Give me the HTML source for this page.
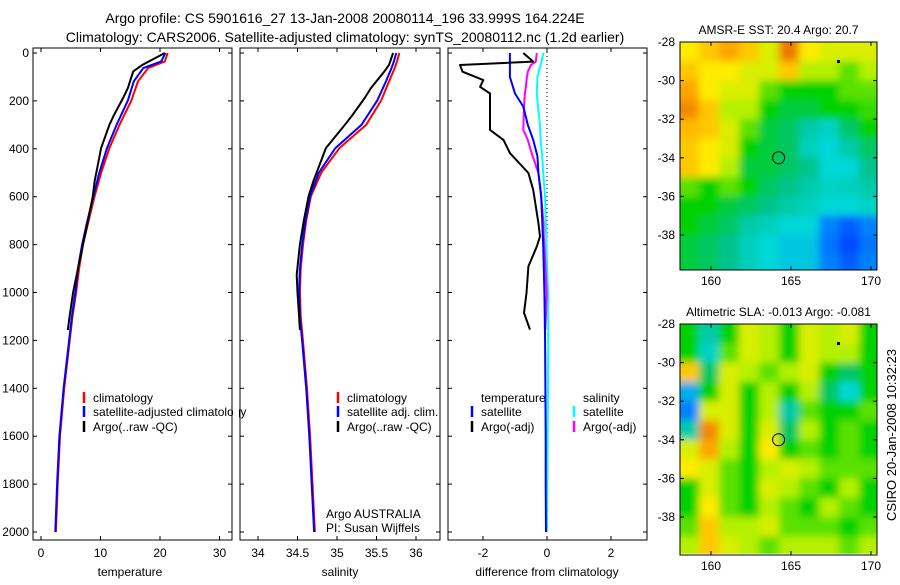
<!DOCTYPE html>
<html><head><meta charset="utf-8"><style>
html,body{margin:0;padding:0;background:#fff}
svg text{font-family:"Liberation Sans",sans-serif;fill:#000}
</style></head><body>
<svg id="fig" width="900" height="580" viewBox="0 0 900 580" xmlns="http://www.w3.org/2000/svg">
<defs>
<filter id="blur" x="-5%" y="-5%" width="110%" height="110%"><feGaussianBlur stdDeviation="4"/></filter>
<clipPath id="clip1"><rect x="680" y="42" width="197" height="228"/></clipPath>
<clipPath id="clip2"><rect x="680" y="324" width="197" height="231"/></clipPath>
</defs>
<text x="345" y="23" font-size="14" text-anchor="middle">Argo profile: CS 5901616_27 13-Jan-2008 20080114_196 33.999S 164.224E</text>
<text x="345" y="42" font-size="14" text-anchor="middle">Climatology: CARS2006. Satellite-adjusted climatology: synTS_20080112.nc (1.2d earlier)</text>
<g id="g"></g>
<text transform="translate(896,435) rotate(-90)" font-size="13" text-anchor="middle">CSIRO 20-Jan-2008 10:32:23</text>
</svg>
<script>
// ---- data ----
const depthClim = [0,35,63,118,198,300,397,500,598,700,800,900,995,1100,1204,1400,1600,1800,2000];
const tempClim = [21.3,20.8,18.0,16.3,15.2,13.2,11.5,10.1,9.0,8.0,7.06,6.4,5.94,5.3,4.8,3.9,3.2,2.8,2.5];
const tempSat = [20.9,20.2,17.2,15.6,14.6,12.7,11.1,9.8,8.8,7.8,6.9,6.2,5.8,5.2,4.7,3.8,3.1,2.7,2.4];
const salClim = [35.79,35.76,35.73,35.66,35.56,35.37,35.03,34.8,34.67,34.61,34.57,34.54,34.53,34.54,34.57,34.62,34.66,34.69,34.72];
const salSat = [35.75,35.72,35.69,35.62,35.51,35.31,34.98,34.77,34.66,34.6,34.56,34.53,34.52,34.53,34.56,34.61,34.65,34.68,34.71];
const depthArgo = [0,49,77,146,188,257,300,397,536,598,700,800,926,1000,1100,1157];
const tempArgo = [20.8,17.1,15.5,14.6,13.8,12.3,11.5,10.1,9.0,8.7,7.9,7.06,6.0,5.4,4.8,4.5];
const salArgo = [35.71,35.66,35.6,35.43,35.35,35.2,35.1,34.86,34.70,34.64,34.58,34.53,34.49,34.5,34.52,34.53];
const diffDepthArgo = [0,36,50,78,113,141,169,224,321,363,418,501,571,710,766,808,891,1002,1085,1155];
const diffTempArgo = [-0.74,-0.43,-2.72,-2.64,-1.99,-2.09,-1.78,-1.78,-1.78,-1.36,-1.16,-0.58,-0.43,-0.27,-0.22,-0.32,-0.58,-0.64,-0.72,-0.53];
const diffSalArgo = [-0.32,-0.35,-0.5,-0.6,-0.64,-0.66,-0.69,-0.72,-0.74,-0.6,-0.48,-0.27,-0.2,-0.11,-0.1,-0.08,-0.05,-0.01,-0.03,-0.05];
const diffDepthSat = [0,50,100,169,224,300,363,430,501,600,800,1000,1200,1400,1600,1800,2000];
const diffTempSat = [-1.16,-1.16,-1.16,-1.0,-0.74,-0.6,-0.43,-0.3,-0.27,-0.18,-0.12,-0.08,-0.06,-0.05,-0.04,-0.04,-0.03];
const diffSalSat = [-0.11,-0.2,-0.3,-0.32,-0.28,-0.22,-0.2,-0.15,-0.12,-0.06,-0.02,0.03,0.04,0.03,0.02,0.01,0.0];
const depthTicks = [0,200,400,600,800,1000,1200,1400,1600,1800,2000];
const tempTicks = [0,10,20,30];
const salTicks = [34,34.5,35,35.5,36];
const salTickLabels = ["34","34.5","35","35.5","36"];
const diffTicks = [-2,0,2];
const sstGrid = [
[.65,.7,.75,.7,.6,.8,.65,.6,.6,.6],
[.7,.65,.65,.6,.6,.7,.55,.55,.5,.55],
[.75,.65,.6,.6,.5,.45,.45,.45,.5,.5],
[.78,.7,.55,.55,.45,.42,.42,.45,.45,.48],
[.72,.7,.6,.5,.42,.4,.35,.32,.4,.45],
[.7,.65,.6,.45,.42,.4,.33,.3,.35,.4],
[.7,.65,.55,.42,.42,.4,.38,.3,.3,.38],
[.5,.45,.5,.45,.4,.38,.35,.32,.33,.35],
[.45,.45,.42,.4,.38,.35,.33,.3,.3,.32],
[.45,.42,.4,.35,.33,.3,.3,.2,.15,.2],
[.42,.4,.38,.33,.3,.28,.28,.18,.12,.18],
[.42,.4,.38,.33,.3,.28,.28,.2,.15,.2]];
const slaGrid = [
[.45,.35,.45,.6,.55,.45,.6,.55,.6,.45],
[.45,.32,.5,.6,.55,.45,.6,.55,.55,.45],
[.7,.4,.6,.55,.5,.55,.6,.45,.4,.45],
[.25,.45,.6,.45,.55,.45,.55,.4,.3,.45],
[.2,.6,.6,.45,.55,.35,.5,.45,.45,.5],
[.35,.78,.6,.45,.6,.4,.55,.45,.5,.45],
[.6,.75,.55,.45,.65,.45,.5,.45,.5,.45],
[.65,.6,.5,.45,.55,.6,.55,.5,.5,.5],
[.45,.6,.5,.45,.6,.55,.5,.45,.55,.45],
[.45,.65,.5,.45,.55,.5,.45,.55,.5,.45],
[.5,.7,.55,.55,.6,.5,.5,.5,.45,.5],
[.55,.7,.6,.55,.5,.55,.55,.55,.5,.55]];
const latTicks = [-28,-30,-32,-34,-36,-38];
const lonTicks = [160,165,170];
const argoLon = 164.224, argoLat = -33.999;

// ---- helpers ----
const NS="http://www.w3.org/2000/svg", G=document.getElementById('g');
function mk(tag,attrs,parent){const e=document.createElementNS(NS,tag);for(const k in attrs)e.setAttribute(k,attrs[k]);(parent||G).appendChild(e);return e;}
const yD = d => 53 + d*0.2395;
const xT = v => 41 + v*5.95;
const xS = v => 258 + (v-34)*79;
const xF = v => 547 + v*32;
const panels = [{x0:33,x1:232,name:'temperature'},{x0:240,x1:440,name:'salinity'},{x0:448,x1:647,name:'difference'}];
const Y0=48,Y1=540;

function line(xs,ds,fx,color,name,w){
  const p = mk('polyline',{points:xs.map((v,i)=>fx(v).toFixed(1)+','+yD(ds[i]).toFixed(1)).join(' '),fill:'none',stroke:color,'stroke-width':w||2,'stroke-linejoin':'round'});
  
  
}
function text(x,y,s,size,anchor,name){
  const t=mk('text',{x:x,y:y,'font-size':size,'text-anchor':anchor||'start'});t.textContent=s;
  
  
  return t;
}

mk('line',{x1:547,x2:547,y1:Y0,y2:260,stroke:'#000','stroke-dasharray':'1,3','stroke-width':1});

line(tempClim,depthClim,xT,'#f00','temp-climatology-line');
line(tempSat,depthClim,xT,'#00f','temp-satellite-line');
line(tempArgo,depthArgo,xT,'#000','temp-argo-line');
line(salClim,depthClim,xS,'#f00','sal-climatology-line');
line(salSat,depthClim,xS,'#00f','sal-satellite-line');
line(salArgo,depthArgo,xS,'#000','sal-argo-line');
line(diffSalSat,diffDepthSat,xF,'#0ff','diff-sal-satellite-line');
line(diffSalArgo,diffDepthArgo,xF,'#f0f','diff-sal-argo-line');
line(diffTempSat,diffDepthSat,xF,'#00f','diff-temp-satellite-line');
line(diffTempArgo,diffDepthArgo,xF,'#000','diff-temp-argo-line');

panels.forEach((p,pi)=>{
  const r=mk('rect',{x:p.x0,y:Y0,width:p.x1-p.x0,height:Y1-Y0,fill:'none',stroke:'#000','stroke-width':1});
  
  
  depthTicks.forEach(d=>{
    mk('line',{x1:p.x0,x2:p.x0+4,y1:yD(d),y2:yD(d),stroke:'#000'});
    mk('line',{x1:p.x1,x2:p.x1-4,y1:yD(d),y2:yD(d),stroke:'#000'});
    if(pi===0) text(p.x0-4,yD(d)+4,String(d),12,'end','depth-tick-label');
  });
});
function xticks(ticks,labels,fx,name){
  ticks.forEach((v,i)=>{const x=fx(v);
    mk('line',{x1:x,x2:x,y1:Y1,y2:Y1-4,stroke:'#000'});mk('line',{x1:x,x2:x,y1:Y0,y2:Y0+4,stroke:'#000'});
    text(x,557,labels[i],12,'middle',name);});
}
xticks(tempTicks,tempTicks.map(String),xT,'temp-tick-label');
xticks(salTicks,salTickLabels,xS,'sal-tick-label');
xticks(diffTicks,diffTicks.map(String),xF,'diff-tick-label');
text(130,576,'temperature',12,'middle','x-axis-title-temperature');
text(340,576,'salinity',12,'middle','x-axis-title-salinity');
text(547,576,'difference from climatology',12,'middle','x-axis-title-difference');

function leg(x,y,color,label,name){
  mk('line',{x1:x,x2:x,y1:y-10,y2:y+1,stroke:color,'stroke-width':2.5});
  text(x+9,y,label,12,'start',name);
}
leg(84,402,'#f00','climatology','legend-climatology');
leg(84,416,'#00f','satellite-adjusted climatology','legend-satellite');
leg(84,431,'#000','Argo(..raw -QC)','legend-argo');
leg(338,402,'#f00','climatology','legend-climatology-sal');
leg(338,416,'#00f','satellite adj. clim.','legend-satellite-sal');
leg(338,431,'#000','Argo(..raw -QC)','legend-argo-sal');
mk('rect',{x:233,y:390,width:6,height:45,fill:'#fff'});
text(481,402,'temperature',12,'start','legend-title-temperature');
text(583,402,'salinity',12,'start','legend-title-salinity');
leg(472,416,'#00f','satellite','legend-diff-temp-sat');
leg(472,431,'#000','Argo(-adj)','legend-diff-temp-argo');
leg(574,416,'#0ff','satellite','legend-diff-sal-sat');
leg(574,431,'#f0f','Argo(-adj)','legend-diff-sal-argo');
text(326,518,'Argo AUSTRALIA',12,'start','credit-argo-australia');
text(326,532,'PI: Susan Wijffels',12,'start','credit-pi');

const stops=[[0.1,[0,60,255]],[0.2,[0,130,255]],[0.3,[0,215,215]],[0.38,[0,195,140]],[0.45,[0,210,0]],[0.55,[180,240,0]],[0.65,[255,235,0]],[0.75,[255,165,0]],[0.85,[215,80,0]]];
function cmap(v){if(v<=stops[0][0])return stops[0][1];for(let i=1;i<stops.length;i++){if(v<=stops[i][0]){const a=stops[i-1],b=stops[i],t=(v-a[0])/(b[0]-a[0]);return a[1].map((c,k)=>Math.round(c+(b[1][k]-c)*t));}}return stops[stops.length-1][1];}
const lonX = lon => 711 + (lon-160)*16;
function drawMap(grid,top,clip,title,name){
  const latY = lat => top + (-28-lat)*19.3;
  const x0=680,x1=877,y1=latY(-39.9);
  const g=mk('g',{'clip-path':'url(#'+clip+')'});
  
  
  const inner=mk('g',{filter:'url(#blur)'},g);
  const rows=grid.length, cols=grid[0].length;
  const lon0=158, lon1=170.5, lat0=-28, lat1=-40;
  const cw=(lonX(lon1)-lonX(lon0))/cols, ch=(latY(lat1)-latY(lat0))/rows;
  for(let r=-1;r<=rows;r++)for(let c=-1;c<=cols;c++){
    const rr=Math.min(rows-1,Math.max(0,r)), cc=Math.min(cols-1,Math.max(0,c));
    const col=cmap(grid[rr][cc]);
    const cell=mk('rect',{x:lonX(lon0)+c*cw,y:latY(lat0)+r*ch,width:cw+0.5,height:ch+0.5,fill:'rgb('+col.join(',')+')'},inner);
    
    
  }
  mk('rect',{x:x0,y:y1,width:x1-x0,height:top+228-y1+5,fill:'#fff'},g);
  const c=mk('circle',{cx:lonX(argoLon),cy:latY(argoLat),r:6,fill:'none',stroke:'#000','stroke-width':1});
  
  
  mk('rect',{x:837,y:top+18,width:3,height:3,fill:'#000'});
  mk('rect',{x:x0,y:top,width:x1-x0,height:(clip==='clip1'?228:231),fill:'none',stroke:'#000'});
  const yb=top+(clip==='clip1'?228:231);
  latTicks.forEach(l=>{const y=latY(l);mk('line',{x1:x0,x2:x0+4,y1:y,y2:y,stroke:'#000'});mk('line',{x1:x1,x2:x1-4,y1:y,y2:y,stroke:'#000'});
    text(x0-5,y+4,String(l),12,'end','lat-tick-label');});
  lonTicks.forEach(l=>{const x=lonX(l);mk('line',{x1:x,x2:x,y1:yb,y2:yb-4,stroke:'#000'});mk('line',{x1:x,x2:x,y1:top,y2:top+4,stroke:'#000'});
    text(x,yb+15,String(l),12,'middle','lon-tick-label');});
  text((x0+x1)/2,top-8,title,12,'middle',name+'-title');
}
drawMap(sstGrid,42,'clip1','AMSR-E SST: 20.4  Argo: 20.7','sst-map');
drawMap(slaGrid,324,'clip2','Altimetric SLA: -0.013  Argo: -0.081','sla-map');
</script>
</body></html>
